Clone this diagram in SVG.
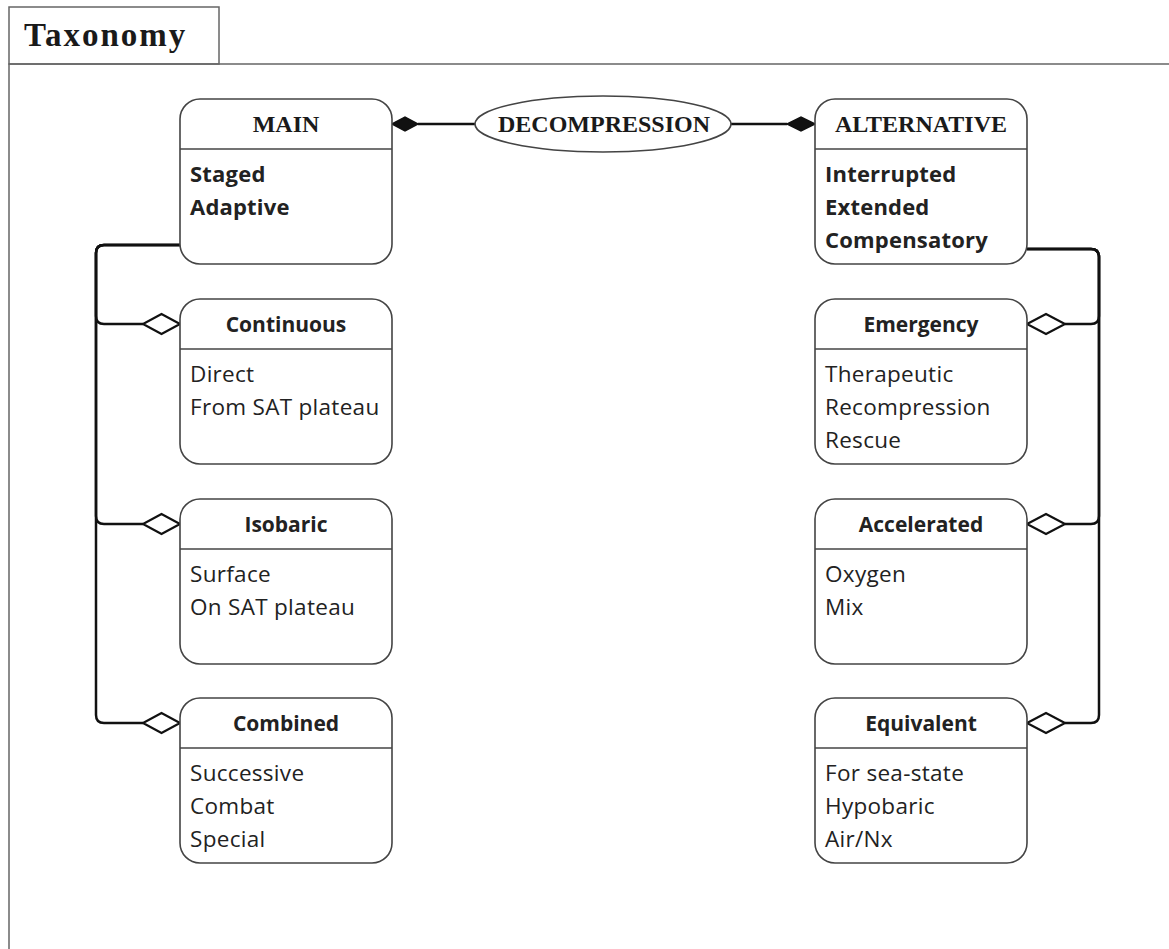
<svg xmlns="http://www.w3.org/2000/svg" width="1169" height="949" viewBox="0 0 1169 949">
<defs>
<style>
.frame{fill:none;stroke:#666;stroke-width:1.5}
.box{fill:#fff;stroke:#444;stroke-width:1.6}
.div{stroke:#444;stroke-width:1.6}
.conn{fill:none;stroke:#111;stroke-width:2.5;stroke-linejoin:round}
.open{fill:#fff;stroke:#111;stroke-width:2.2;stroke-linejoin:miter}
.filled{fill:#111;stroke:#111;stroke-width:1.5}
.serif{font-family:"Liberation Serif","DejaVu Serif",serif;font-weight:bold;fill:#1a1a1a}
.hdr{font-family:"Open Sans","Liberation Sans",sans-serif;font-weight:bold;font-size:21px;fill:#222;text-anchor:middle}
.body{font-family:"Open Sans","Liberation Sans",sans-serif;font-size:22.5px;fill:#222;letter-spacing:0.3px}
.bodyb{font-family:"Open Sans","Liberation Sans",sans-serif;font-size:22px;font-weight:bold;fill:#222;letter-spacing:0.2px}
</style>
</defs>
<rect width="1169" height="949" fill="#fff"/>
<g id="frame">
<path class="frame" d="M9,949 V64 H1169"/>
<rect class="frame" x="9" y="7" width="210" height="57"/>
<text class="serif" x="24" y="46" font-size="33" letter-spacing="2">Taxonomy</text>
</g>
<g id="connectors">
<path class="conn" d="M180,245 H104 Q96,245 96,253 V316 Q96,324 104,324 H143"/>
<path class="conn" d="M180,245 H104 Q96,245 96,253 V516 Q96,524 104,524 H143"/>
<path class="conn" d="M180,245 H104 Q96,245 96,253 V715 Q96,723 104,723 H143"/>
<path class="conn" d="M1027,249 H1091 Q1099,249 1099,257 V316 Q1099,324 1091,324 H1065"/>
<path class="conn" d="M1027,249 H1091 Q1099,249 1099,257 V516 Q1099,524 1091,524 H1065"/>
<path class="conn" d="M1027,249 H1091 Q1099,249 1099,257 V715 Q1099,723 1091,723 H1065"/>
<path class="conn" d="M418,124 H475"/>
<path class="conn" d="M731,124 H787"/>
<path class="filled" d="M392,124 L405,117 L418,124 L405,131 Z"/>
<path class="filled" d="M815,124 L801,117 L787,124 L801,131 Z"/>
<path class="open" d="M180,324 L161.5,314 L143,324 L161.5,334 Z"/>
<path class="open" d="M180,524 L161.5,514 L143,524 L161.5,534 Z"/>
<path class="open" d="M180,723 L161.5,713 L143,723 L161.5,733 Z"/>
<path class="open" d="M1027,324 L1046,314 L1065,324 L1046,334 Z"/>
<path class="open" d="M1027,524 L1046,514 L1065,524 L1046,534 Z"/>
<path class="open" d="M1027,723 L1046,713 L1065,723 L1046,733 Z"/>
</g>
<g id="decompression">
<ellipse cx="603" cy="124" rx="128" ry="28" fill="#fff" stroke="#444" stroke-width="1.6"/>
<text class="serif" x="604" y="132" font-size="24" text-anchor="middle">DECOMPRESSION</text>
</g>
<g id="main">
<rect class="box" x="180" y="99" width="212" height="165" rx="20"/>
<line class="div" x1="180" y1="149" x2="392" y2="149"/>
<text class="serif" x="286" y="132" font-size="24" text-anchor="middle">MAIN</text>
<text class="bodyb" x="190" y="182">Staged</text>
<text class="bodyb" x="190" y="215">Adaptive</text>
</g>
<g id="continuous">
<rect class="box" x="180" y="299" width="212" height="165" rx="20"/>
<line class="div" x1="180" y1="349" x2="392" y2="349"/>
<text class="hdr" x="286" y="332">Continuous</text>
<text class="body" x="190" y="382">Direct</text>
<text class="body" x="190" y="415">From SAT plateau</text>
</g>
<g id="isobaric">
<rect class="box" x="180" y="499" width="212" height="165" rx="20"/>
<line class="div" x1="180" y1="549" x2="392" y2="549"/>
<text class="hdr" x="286" y="532">Isobaric</text>
<text class="body" x="190" y="582">Surface</text>
<text class="body" x="190" y="615">On SAT plateau</text>
</g>
<g id="combined">
<rect class="box" x="180" y="698" width="212" height="165" rx="20"/>
<line class="div" x1="180" y1="748" x2="392" y2="748"/>
<text class="hdr" x="286" y="731">Combined</text>
<text class="body" x="190" y="781">Successive</text>
<text class="body" x="190" y="814">Combat</text>
<text class="body" x="190" y="847">Special</text>
</g>
<g id="alternative">
<rect class="box" x="815" y="99" width="212" height="165" rx="20"/>
<line class="div" x1="815" y1="149" x2="1027" y2="149"/>
<text class="serif" x="921" y="132" font-size="24" text-anchor="middle">ALTERNATIVE</text>
<text class="bodyb" x="825" y="182">Interrupted</text>
<text class="bodyb" x="825" y="215">Extended</text>
<text class="bodyb" x="825" y="248">Compensatory</text>
</g>
<g id="emergency">
<rect class="box" x="815" y="299" width="212" height="165" rx="20"/>
<line class="div" x1="815" y1="349" x2="1027" y2="349"/>
<text class="hdr" x="921" y="332">Emergency</text>
<text class="body" x="825" y="382">Therapeutic</text>
<text class="body" x="825" y="415">Recompression</text>
<text class="body" x="825" y="448">Rescue</text>
</g>
<g id="accelerated">
<rect class="box" x="815" y="499" width="212" height="165" rx="20"/>
<line class="div" x1="815" y1="549" x2="1027" y2="549"/>
<text class="hdr" x="921" y="532">Accelerated</text>
<text class="body" x="825" y="582">Oxygen</text>
<text class="body" x="825" y="615">Mix</text>
</g>
<g id="equivalent">
<rect class="box" x="815" y="698" width="212" height="165" rx="20"/>
<line class="div" x1="815" y1="748" x2="1027" y2="748"/>
<text class="hdr" x="921" y="731">Equivalent</text>
<text class="body" x="825" y="781">For sea-state</text>
<text class="body" x="825" y="814">Hypobaric</text>
<text class="body" x="825" y="847">Air/Nx</text>
</g>
</svg>
